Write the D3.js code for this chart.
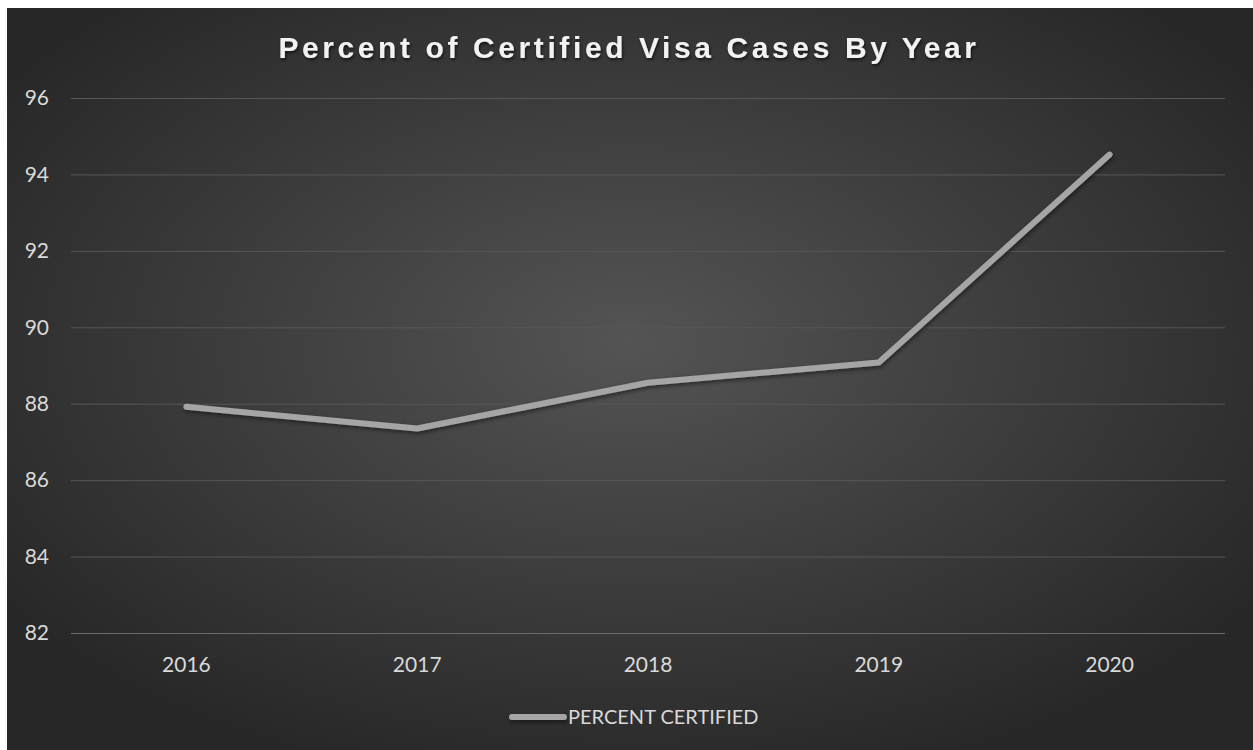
<!DOCTYPE html>
<html>
<head>
<meta charset="utf-8">
<script src="https://cdn.jsdelivr.net/npm/d3@7"></script>
<style>
  html, body { margin: 0; padding: 0; background: #ffffff; }
  svg { display: block; }
</style>
</head>
<body>
<svg id="chart" width="1253" height="750"></svg>
<script>
// Share of visa cases certified each year
const years = ["2016", "2017", "2018", "2019", "2020"];
const percentCertified = [87.92, 87.35, 88.55, 89.08, 94.52];
const yTicks = [82, 84, 86, 88, 90, 92, 94, 96];
const seriesName = "PERCENT CERTIFIED";
const titleText = "Percent of Certified Visa Cases By Year";

const W = 1253, H = 750;
const svg = d3.select("#chart");
const defs = svg.append("defs");

const grad = defs.append("radialGradient")
  .attr("id", "bg").attr("cx", "50%").attr("cy", "45%").attr("r", "62%");
grad.append("stop").attr("offset", "0%").attr("stop-color", "#545454");
grad.append("stop").attr("offset", "100%").attr("stop-color", "#272727");

// soft drop shadow under the data line (user-space region so flat lines keep it)
const shadow = defs.append("filter").attr("id", "shadow")
  .attr("filterUnits", "userSpaceOnUse")
  .attr("x", 0).attr("y", 0).attr("width", W).attr("height", H);
shadow.append("feDropShadow").attr("dx", 1).attr("dy", 2).attr("stdDeviation", 2)
  .attr("flood-color", "#000").attr("flood-opacity", 0.5);

const tshadow = defs.append("filter").attr("id", "tshadow")
  .attr("filterUnits", "userSpaceOnUse")
  .attr("x", 0).attr("y", 0).attr("width", W).attr("height", H);
tshadow.append("feDropShadow").attr("dx", 1).attr("dy", 2).attr("stdDeviation", 1.5)
  .attr("flood-color", "#000").attr("flood-opacity", 0.6);

// chart panel
svg.append("rect").attr("x", 7).attr("y", 8).attr("width", W - 7).attr("height", H - 8)
  .attr("fill", "url(#bg)");

const plot = { left: 71, right: 1225, top: 98, bottom: 633 };

const x = d3.scaleBand().domain(years).range([plot.left, plot.right]);
const y = d3.scaleLinear().domain([82, 96]).range([plot.bottom, plot.top]);

// horizontal gridlines
svg.append("g").selectAll("line").data(yTicks).join("line")
  .attr("x1", plot.left).attr("x2", plot.right)
  .attr("y1", d => y(d) + 0.5).attr("y2", d => y(d) + 0.5)
  .attr("stroke", d => d === 82 ? "#6a6a6a" : "#575757").attr("stroke-width", 1);

const font = "Lato, 'Liberation Sans', sans-serif";

// y axis labels
const yAxis = d3.axisLeft(y).tickValues(yTicks).tickSize(0).tickPadding(0);
const gy = svg.append("g").attr("transform", "translate(49,0)").call(yAxis);
gy.attr("font-size", null).attr("font-family", null);
gy.select(".domain").remove();
gy.selectAll("text").attr("fill", "#d9d9d9")
  .style("font-size", "21px").style("font-family", font).attr("text-anchor", "end");

// x axis labels
const xAxis = d3.axisBottom(x).tickSize(0).tickPadding(0);
const gx = svg.append("g").attr("transform", `translate(0,${plot.bottom + 24})`).call(xAxis);
gx.attr("font-size", null).attr("font-family", null);
gx.select(".domain").remove();
gx.selectAll("text").attr("fill", "#d9d9d9")
  .style("font-size", "21px").style("font-family", font);

// data line
const line = d3.line()
  .x((d, i) => x(years[i]) + x.bandwidth() / 2)
  .y(d => y(d));
svg.append("path").datum(percentCertified)
  .attr("d", line)
  .attr("fill", "none").attr("stroke", "#a5a5a5").attr("stroke-width", 6)
  .attr("stroke-linecap", "round").attr("stroke-linejoin", "round")
  .attr("filter", "url(#shadow)");

// title
svg.append("text").attr("x", 629).attr("y", 58).attr("text-anchor", "middle")
  .attr("fill", "#f2f2f2").style("font-size", "30px").attr("font-weight", "bold")
  .style("font-family", "'Liberation Sans', Arial, sans-serif")
  .attr("letter-spacing", 3.6)
  .attr("filter", "url(#tshadow)")
  .text(titleText);

// legend
const lg = svg.append("g");
lg.append("line").attr("x1", 512).attr("x2", 564).attr("y1", 717).attr("y2", 717)
  .attr("stroke", "#a5a5a5").attr("stroke-width", 6).attr("stroke-linecap", "round")
  .attr("filter", "url(#shadow)");
lg.append("text").attr("x", 568).attr("y", 724).attr("fill", "#d9d9d9")
  .style("font-size", "20px").style("font-family", font).text(seriesName);
</script>
</body>
</html>
